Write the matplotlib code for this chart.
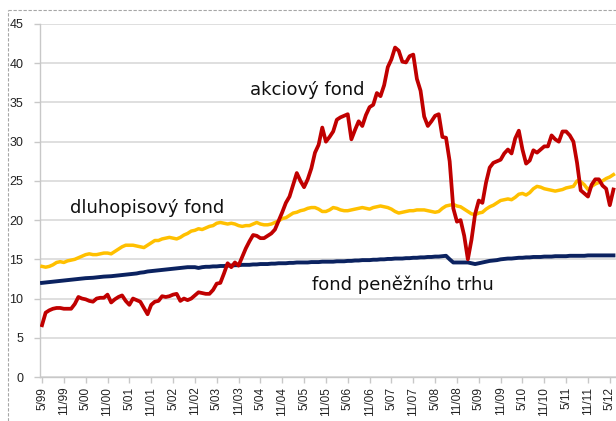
import matplotlib.pyplot as plt
from matplotlib.lines import Line2D

# monthly values, 5/1999 .. 6/2012
akciovy = [
    6.6, 8.2, 8.5, 8.7, 8.8, 8.8, 8.7, 8.7, 8.7, 9.3,
    10.2, 10.0, 9.9, 9.7, 9.6, 10.0, 10.1, 10.1, 10.5, 9.5,
    9.9, 10.2, 10.4, 9.7, 9.2, 10.0, 9.8, 9.6, 8.8, 8.0,
    9.2, 9.6, 9.7, 10.3, 10.2, 10.3, 10.5, 10.6, 9.7, 10.0,
    9.8, 10.0, 10.4, 10.8, 10.7, 10.6, 10.6, 11.1, 11.9, 12.0,
    13.2, 14.5, 14.0, 14.6, 14.2, 15.3, 16.4, 17.3, 18.1, 18.0,
    17.7, 17.7, 18.0, 18.3, 18.8, 19.9, 21.0, 22.2, 23.0, 24.5,
    26.0, 25.0, 24.2, 25.2, 26.6, 28.6, 29.6, 31.8, 30.0, 30.6,
    31.3, 32.8, 33.1, 33.3, 33.5, 30.3, 31.5, 32.6, 32.0, 33.4,
    34.4, 34.7, 36.2, 35.8, 37.2, 39.5, 40.5, 42.0, 41.6, 40.2,
    40.1, 40.9, 41.1, 38.0, 36.5, 33.2, 32.0, 32.6, 33.3, 33.5,
    30.6, 30.5, 27.5, 21.5, 19.8, 20.0, 18.0, 15.0, 17.5, 20.8,
    22.5, 22.2, 24.8, 26.7, 27.3, 27.5, 27.7, 28.5, 29.0, 28.5,
    30.4, 31.4, 29.0, 27.2, 27.6, 28.9, 28.6, 29.0, 29.4, 29.4,
    30.8, 30.3, 30.0, 31.3, 31.3, 30.8, 30.0, 27.3, 23.8, 23.4,
    23.0, 24.5, 25.2, 25.2, 24.4, 24.0, 21.9, 23.9,
]

dluhopisovy = [
    14.1, 14.0, 14.1, 14.3, 14.6, 14.7, 14.6, 14.8, 14.9, 15.0,
    15.2, 15.4, 15.6, 15.7, 15.6, 15.6, 15.7, 15.8, 15.8, 15.7,
    16.0, 16.3, 16.6, 16.8, 16.8, 16.8, 16.7, 16.6, 16.5, 16.8,
    17.1, 17.4, 17.4, 17.6, 17.7, 17.8, 17.7, 17.6, 17.8, 18.1,
    18.3, 18.6, 18.7, 18.9, 18.8, 19.0, 19.2, 19.3, 19.6, 19.7,
    19.6, 19.5, 19.6, 19.5, 19.3, 19.2, 19.3, 19.3, 19.5, 19.7,
    19.5, 19.4, 19.4, 19.5, 19.7, 19.9, 20.2, 20.3, 20.6, 20.9,
    21.0, 21.2, 21.3, 21.5, 21.6, 21.6, 21.4, 21.1, 21.1, 21.3,
    21.6, 21.5, 21.3, 21.2, 21.2, 21.3, 21.4, 21.5, 21.6, 21.5,
    21.4, 21.6, 21.7, 21.8, 21.7, 21.6, 21.4, 21.1, 20.9, 21.0,
    21.1, 21.2, 21.2, 21.3, 21.3, 21.3, 21.2, 21.1, 21.0, 21.1,
    21.5, 21.8, 21.9, 22.0, 21.8, 21.7, 21.4, 21.1, 20.8, 20.7,
    20.9, 21.0, 21.4, 21.7, 21.9, 22.2, 22.5, 22.6, 22.7, 22.6,
    22.9, 23.3, 23.4, 23.2, 23.5, 24.0, 24.3, 24.2, 24.0, 23.9,
    23.8, 23.7, 23.8, 23.9, 24.1, 24.2, 24.3, 25.0, 24.9, 24.5,
    23.9, 24.3, 24.6, 24.8, 25.0, 25.3, 25.5, 25.8,
]

penezni = [
    12.0, 12.05, 12.1, 12.15, 12.2, 12.25, 12.3, 12.35, 12.4, 12.45,
    12.5, 12.55, 12.6, 12.62, 12.65, 12.7, 12.75, 12.8, 12.82, 12.85,
    12.9, 12.95, 13.0, 13.05, 13.1, 13.15, 13.2, 13.3, 13.35, 13.45,
    13.5, 13.55, 13.6, 13.65, 13.7, 13.75, 13.8, 13.85, 13.9, 13.95,
    14.0, 14.0, 14.0, 13.9, 14.0, 14.05, 14.05, 14.1, 14.1, 14.15,
    14.15, 14.2, 14.2, 14.25, 14.25, 14.3, 14.3, 14.3, 14.35, 14.35,
    14.4, 14.4, 14.4, 14.45, 14.45, 14.5, 14.5, 14.5, 14.55, 14.55,
    14.6, 14.6, 14.6, 14.6, 14.65, 14.65, 14.65, 14.7, 14.7, 14.7,
    14.7, 14.75, 14.75, 14.75, 14.8, 14.8, 14.85, 14.85, 14.9, 14.9,
    14.9, 14.95, 14.95, 15.0, 15.0, 15.05, 15.05, 15.1, 15.1, 15.1,
    15.15, 15.15, 15.2, 15.2, 15.25, 15.25, 15.3, 15.3, 15.35, 15.35,
    15.4, 15.45, 15.0, 14.6, 14.6, 14.6, 14.6, 14.6, 14.5, 14.4,
    14.5, 14.6, 14.7, 14.8, 14.85, 14.9, 15.0, 15.05, 15.1, 15.1,
    15.15, 15.2, 15.2, 15.25, 15.25, 15.3, 15.3, 15.3, 15.35, 15.35,
    15.35, 15.4, 15.4, 15.4, 15.4, 15.45, 15.45, 15.45, 15.45, 15.45,
    15.5, 15.5, 15.5, 15.5, 15.5, 15.5, 15.5, 15.5,
]

tick_labels = ['5/99', '11/99', '5/00', '11/00', '5/01', '11/01', '5/02', '11/02',
               '5/03', '11/03', '5/04', '11/04', '5/05', '11/05', '5/06', '11/06',
               '5/07', '11/07', '5/08', '11/08', '5/09', '11/09', '5/10', '11/10',
               '5/11', '11/11', '5/12']

months = list(range(len(akciovy)))

fig = plt.figure(figsize=(6.16, 4.21), dpi=100)
ax = fig.add_axes([40 / 616, 1 - 377 / 421, 1 - 40 / 616, (377 - 24) / 421])

# chart area border, only top and left edges are inside the crop
bx, by = 8 / 616, 1 - 10 / 421
for xs, ys in [([bx, 1.0], [by, by]), ([bx, bx], [0.0, by])]:
    fig.add_artist(Line2D(xs, ys, transform=fig.transFigure, color='#a6a6a6',
                          lw=0.8, ls=(0, (3, 1.5))))

ax.plot(months, dluhopisovy, color='#FFC000', lw=2.5, solid_joinstyle='round', zorder=3)
ax.plot(months, penezni, color='#0B2260', lw=2.8, solid_joinstyle='round', zorder=4)
ax.plot(months, akciovy, color='#C00000', lw=2.7, solid_joinstyle='round', zorder=5)

ax.set_xlim(-0.55, 157.7)
ax.set_ylim(0, 45)
ax.set_yticks(range(0, 46, 5))
ax.set_xticks(months[::6])
ax.set_xticklabels(tick_labels, rotation=90, family='Liberation Sans', fontsize=8.5)
for lab in ax.get_yticklabels():
    lab.set_family('Liberation Sans')
    lab.set_fontsize(9)

ax.grid(axis='y', color='#d9d9d9', lw=1.2)
ax.set_axisbelow(True)
for s in ['top', 'right']:
    ax.spines[s].set_visible(False)
for s in ['left', 'bottom']:
    ax.spines[s].set_color('#c8c8c8')
    ax.spines[s].set_linewidth(1.0)
ax.tick_params(axis='both', color='#c8c8c8', length=4, width=1.0, labelcolor='#222222')
ax.tick_params(axis='y', pad=8)
ax.tick_params(axis='x', pad=3)

ax.text(57.1, 36.6, 'akciový fond', fontsize=13, ha='left', va='center', color='#111111')
ax.text(7.7, 21.6, 'dluhopisový fond', fontsize=13, ha='left', va='center', color='#111111')
ax.text(74.2, 11.7, 'fond peněžního trhu', fontsize=13, ha='left', va='center', color='#111111')

fig.savefig('out.png', dpi=100)
